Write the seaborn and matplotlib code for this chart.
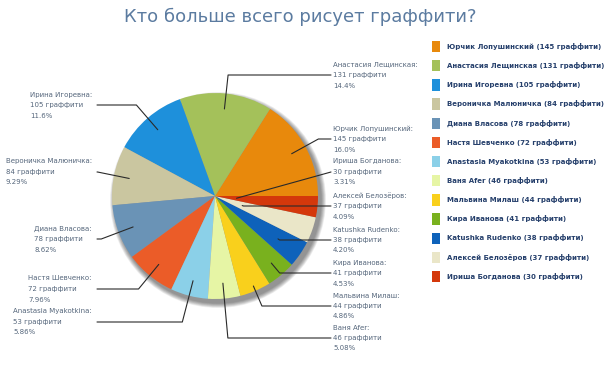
import numpy as np
import matplotlib
matplotlib.use('Agg')
import matplotlib.pyplot as plt
from matplotlib.patches import Patch, Circle
import seaborn as sns

# данные
names = ['Юрчик Лопушинский', 'Анастасия Лещинская', 'Ирина Игоревна', 'Вероничка Малюничка',
         'Диана Власова', 'Настя Шевченко', 'Anastasia Myakotkina', 'Ваня Afer',
         'Мальвина Милаш', 'Кира Иванова', 'Katushka Rudenko', 'Алексей Белозёров',
         'Ириша Богданова']
counts = [145, 131, 105, 84, 78, 72, 53, 46, 44, 41, 38, 37, 30]
colors = ['#E8890C', '#A4C15A', '#1E90DB', '#CAC6A0', '#6A93B6', '#EB5C28', '#8BD0E8',
          '#E6F5A5', '#F9D01C', '#79B11E', '#0E62BA', '#EAE6C8', '#D4380B']

# раскладка подписей (y в пикселях сверху) и глубина точки выноски
label_y = [139, 75, 105, 172, 239, 289, 322, 338, 306, 273, 240, 206, 172]
anchor_frac = [0.85, 0.85, 0.85, 0.85, 0.85, 0.86, 0.85, 0.85, 0.95, 0.85, 0.74, 0.28, 0.21]

sns.set_theme(style='white')
plt.rcParams['font.family'] = ['DejaVu Sans']

W, H = 604, 378
fig = plt.figure(figsize=(W / 100, H / 100), dpi=100)
fig.patch.set_facecolor('white')
ax = fig.add_axes([0, 0, 1, 1])
cx, cy, R = 215, H - 196, 103

# мягкая тень под диаграммой
for i in range(10):
    ax.add_patch(Circle((cx + 3, cy - 4), R + 5 - i * 0.5, color='black', alpha=0.05, lw=0, zorder=0))

wedges, _ = ax.pie(counts, colors=colors, startangle=0, counterclock=True, radius=R,
                   center=(cx, cy), frame=True, wedgeprops=dict(linewidth=0))
ax.set_xlim(0, W)
ax.set_ylim(0, H)
ax.axis('off')

total = sum(counts)


def trunc_pct(v):
    p = v / total * 100
    d = 3 - len(str(int(p)))
    q = np.floor(p * 10 ** d + 1e-9) / 10 ** d
    return f"{q:.{d}f}%"


for w, name, n, ly, fr in zip(wedges, names, counts, label_y, anchor_frac):
    mid = np.deg2rad((w.theta1 + w.theta2) / 2)
    ux, uy = np.cos(mid), np.sin(mid)
    px, py = cx + fr * R * ux, cy + fr * R * uy
    ty = H - ly
    right = ux > 0
    tx = 331 if right else 97
    pts = [(px, py)]
    if abs(uy) > 1e-6:
        t = (ty - py) / uy
        ex = px + t * ux
        if t > 0 and ((right and ex < tx) or (not right and ex > tx)):
            pts.append((ex, ty))
    pts.append((tx, ty))
    xs, ys = zip(*pts)
    ax.plot(xs, ys, color='#2a2a2a', lw=0.8, zorder=3)
    txt = f"{name}:\n{n} граффити\n{trunc_pct(n)}"
    if right:
        ax.text(333, ty, txt, ha='left', va='center', fontsize=5, color='#56677c', linespacing=1.9)
    else:
        ax.text(92, ty, txt, ha='right', va='center', multialignment='left',
                fontsize=5, color='#56677c', linespacing=1.9)

fig.text(300 / W, 1 - 17 / H, 'Кто больше всего рисует граффити?', ha='center', va='center',
         fontsize=13, color='#5B7BA0')

handles = [Patch(facecolor=c, edgecolor='none') for c in colors]
labels = [f"{nm} ({n} граффити)" for nm, n in zip(names, counts)]
ax.legend(handles, labels, loc='upper left', bbox_to_anchor=(432 / W, 1 - 41 / H),
          bbox_transform=fig.transFigure, frameon=False, borderpad=0, borderaxespad=0,
          handlelength=1.15, handleheight=2.1, handletextpad=1.0, labelspacing=1.15,
          prop={'weight': 'bold', 'size': 5.0}, labelcolor='#26406c')

fig.savefig('out.png', dpi=100, facecolor='white')
